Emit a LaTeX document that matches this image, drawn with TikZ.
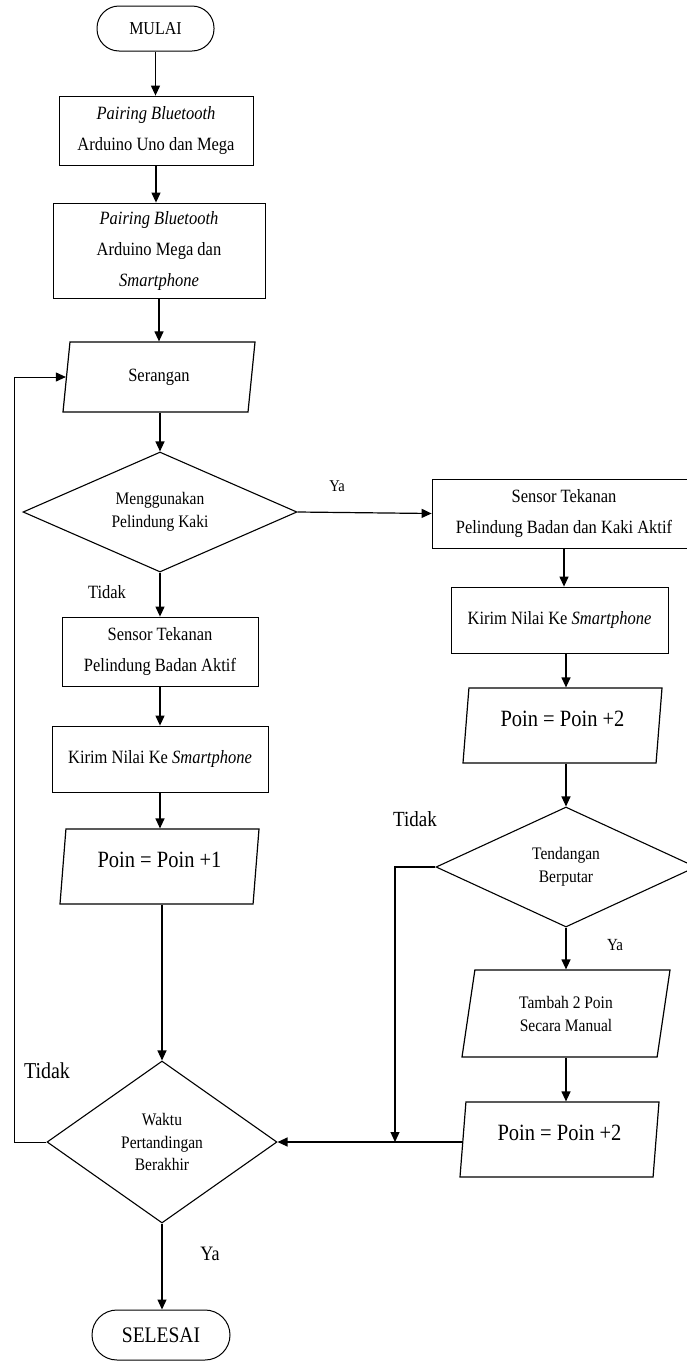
\documentclass[tikz,border=0pt]{standalone}
\usepackage{fontspec}
\setmainfont{Liberation Serif}[FakeStretch=0.88]
\usetikzlibrary{shapes.geometric,arrows.meta}

\tikzset{
  kotak/.style={draw, rectangle, line width=0.8pt, align=center, inner sep=0pt,
    font=\fontsize{18.75}{31}\selectfont},
  ujung/.style={draw, rectangle, rounded corners=22pt, line width=1pt, inner sep=0pt},
  jajar/.style={draw, trapezium, trapezium left angle=78, trapezium right angle=102,
    trapezium stretches body, line width=1.2pt, inner sep=0pt, align=center},
  poin/.style={jajar, minimum width=199pt, minimum height=75pt, text depth=12.5pt,
    font=\fontsize{23.3}{26}\selectfont},
  putus/.style={draw, diamond, line width=1.1pt, inner sep=0pt, align=center,
    font=\fontsize{17.6}{22.5}\selectfont},
  panah/.style={-{Triangle[length=10pt,width=9pt]}, line width=1.2pt},
  ket/.style={inner sep=0pt}
}

\begin{document}
\begin{tikzpicture}[x=1pt,y=-1pt]
\useasboundingbox (0,0) rectangle (686,1363);

% kolom kiri
\node[ujung, minimum width=117pt, minimum height=45pt, font=\fontsize{18.2}{20}\selectfont] (mulai) at (155.5,28.5) {MULAI};
\node[kotak, minimum width=194pt, minimum height=69pt] (pair1) at (156,130.5) {\textit{Pairing Bluetooth}\\Arduino Uno dan Mega};
\node[kotak, minimum width=212pt, minimum height=95pt] (pair2) at (159,250.5) {\textit{Pairing Bluetooth}\\Arduino Mega dan\\\textit{Smartphone}};
\node[jajar, trapezium left angle=67, trapezium right angle=113, minimum width=192pt, minimum height=70pt,
  font=\fontsize{18.75}{22}\selectfont] (serang) at (159,377) {Serangan};
\node[putus, aspect=2.3, minimum width=274pt, minimum height=120pt] (kaki) at (160,512) {Menggunakan\\Pelindung Kaki};
\node[kotak, minimum width=196pt, minimum height=69pt] (sensor1) at (160,651.5) {Sensor Tekanan\\Pelindung Badan Aktif};
\node[kotak, minimum width=216pt, minimum height=66pt] (kirim1) at (160,759) {Kirim Nilai Ke \textit{Smartphone}};
\node[poin] (poin1) at (159.5,866.5) {Poin = Poin +1};
\node[putus, aspect=1.42, minimum width=230pt, minimum height=162pt] (waktu) at (162,1142) {Waktu\\Pertandingan\\Berakhir};
\node[ujung, rounded corners=25pt, minimum width=138pt, minimum height=50pt, font=\fontsize{22.2}{24}\selectfont] (selesai) at (161,1335) {SELESAI};

% kolom kanan
\node[kotak, minimum width=264pt, minimum height=69pt] (sensor2) at (564,513.5) {Sensor Tekanan\\Pelindung Badan dan Kaki Aktif};
\node[kotak, minimum width=217pt, minimum height=66pt] (kirim2) at (559.5,620) {Kirim Nilai Ke \textit{Smartphone}};
\node[poin] (poin2a) at (562.5,725.5) {Poin = Poin +2};
\node[putus, aspect=2.2, minimum width=260pt, minimum height=120pt] (putar) at (566,867) {Tendangan\\Berputar};
\node[jajar, trapezium left angle=70, trapezium right angle=110, minimum width=208pt, minimum height=87pt,
  font=\fontsize{17.6}{23}\selectfont] (manual) at (566,1013.5) {Tambah 2 Poin\\Secara Manual};
\node[poin] (poin2b) at (559.5,1139.5) {Poin = Poin +2};

% keterangan
\node[ket, font=\fontsize{16.5}{18}\selectfont] (ya1) at (337,486) {Ya};
\node[ket, font=\fontsize{18.75}{20}\selectfont] (tidak1) at (107,592) {Tidak};
\node[ket, font=\fontsize{21.6}{23}\selectfont] (tidak2) at (415,819) {Tidak};
\node[ket, font=\fontsize{17}{19}\selectfont] (ya2) at (615,945) {Ya};
\node[ket, font=\fontsize{22.7}{24}\selectfont] (tidak3) at (47,1071) {Tidak};
\node[ket, font=\fontsize{20.5}{22}\selectfont] (ya3) at (210,1254) {Ya};

\coordinate (kiri) at (14,1142);
\coordinate (temu) at (395,1142);

% panah
\draw[panah] (mulai.south) -- (mulai.south |- pair1.north);
\draw[panah] (pair1.south) -- (pair1.south |- pair2.north);
\draw[panah] (pair2.south) -- (pair2.south |- serang.north);
\draw[panah] (kaki.north |- serang.south) -- (kaki.north);
\draw[panah] (kaki.east) -- (sensor2.west);
\draw[panah] (kaki.south) -- (kaki.south |- sensor1.north);
\draw[panah] (sensor1.south) -- (sensor1.south |- kirim1.north);
\draw[panah] (kirim1.south) -- (kirim1.south |- poin1.north);
\draw[panah] (waktu.north |- poin1.south) -- (waktu.north);
\draw[panah] (waktu.south) -- (waktu.south |- selesai.north);
\draw[panah, line width=1pt] (waktu.west) -- (kiri) |- (serang.west);

\draw[panah] (sensor2.south) -- (sensor2.south |- kirim2.north);
\draw[panah] (putar.north |- kirim2.south) -- (putar.north |- poin2a.north);
\draw[panah] (putar.north |- poin2a.south) -- (putar.north);
\draw[panah] (putar.south) -- (putar.south |- manual.north);
\draw[panah] (putar.south |- manual.south) -- (putar.south |- poin2b.north);
\draw[panah] (putar.west) -| (temu);
\draw[panah] (poin2b.west |- waktu.east) -- (waktu.east);
\end{tikzpicture}
\end{document}
